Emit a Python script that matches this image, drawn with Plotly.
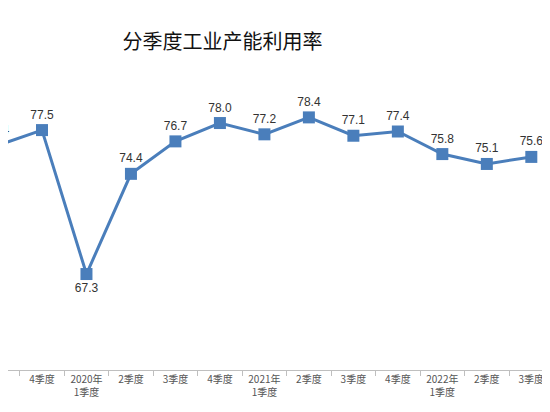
import plotly.graph_objects as go

categories = ["3季度", "4季度", "2020年<br>1季度", "2季度", "3季度", "4季度", "2021年<br>1季度",
              "2季度", "3季度", "4季度", "2022年<br>1季度", "2季度", "3季度"]
values = [76.4, 77.5, 67.3, 74.4, 76.7, 78.0, 77.2, 78.4, 77.1, 77.4, 75.8, 75.1, 75.6]
labels = [f"{v:.1f}" for v in values]
positions = list(range(len(categories)))
label_pos = ["top center"] * len(values)
label_pos[2] = "bottom center"

fig = go.Figure(go.Scatter(
    x=positions, y=values, mode="lines+markers+text", text=labels,
    textposition=label_pos, textfont=dict(size=12, color="#333333", family="Liberation Sans"),
    line=dict(color="#4a7ebb", width=3),
    marker=dict(symbol="square", size=12, color="#4a7ebb"),
    cliponaxis=True,
))
fig.update_layout(
    width=550, height=412, margin=dict(l=0, r=0, t=60, b=50),
    paper_bgcolor="white", plot_bgcolor="white", showlegend=False,
    title=dict(text="分季度工业产能利用率", x=0.39, xanchor="center", y=0.935,
               font=dict(size=20, color="#111111", family="Noto Sans CJK SC")),
)
fig.update_xaxes(range=[0.236, 12.6], tickvals=positions, ticktext=categories,
                 showgrid=False, showline=True, linecolor="#bfbfbf", ticks="",
                 tickfont=dict(size=10, color="#555555", family="Noto Sans CJK SC"),
                 minor=dict(ticks="outside", tick0=0.5, dtick=1, ticklen=5, tickcolor="#bfbfbf"),
                 zeroline=False)
fig.update_yaxes(range=[60.5, 81.9], visible=False)
fig.write_html("out.html")
